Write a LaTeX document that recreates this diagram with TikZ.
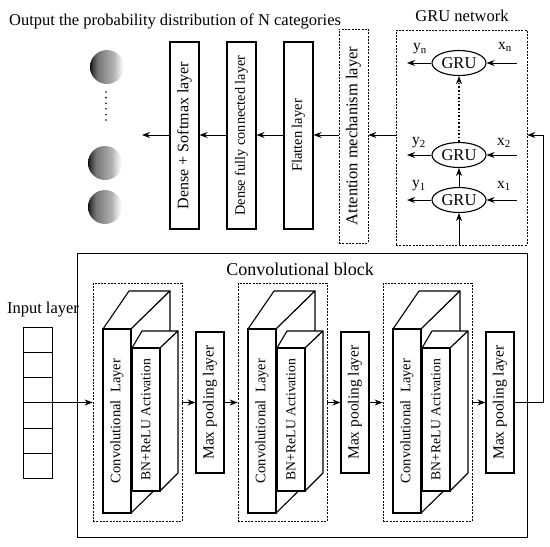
\documentclass[tikz,border=0pt]{standalone}
\usepackage{fontspec}
\setmainfont{Liberation Serif}
\usetikzlibrary{arrows.meta,shapes.geometric}
\pgfdeclarehorizontalshading{ballshade}{100bp}{color(0bp)=(black); color(25bp)=(black!95); color(29bp)=(black!75); color(36bp)=(black!55); color(48bp)=(black!42); color(60bp)=(black!30); color(68bp)=(black!12); color(75bp)=(white); color(100bp)=(white)}
\newcommand\fsz[1]{\fontsize{#1}{#1}\selectfont}
\begin{document}
\begin{tikzpicture}[x=1pt,y=-1pt,
  box/.style={draw, line width=1.1pt, inner sep=0pt, fill=white},
  dbox/.style={draw, line width=0.7pt, inner sep=0pt, dash pattern=on 2pt off 1.3pt},
  arr/.style={-{Stealth[length=8pt,width=6pt]}, line width=0.9pt},
  gru/.style={draw, ellipse, line width=1.1pt, minimum width=54pt, minimum height=25pt, inner sep=0pt, font=\fsz{16.5}},
  lbl/.style={inner sep=0pt, font=\fsz{15.5}},
  ball/.style={shading=ballshade}
]
\useasboundingbox (0,0) rectangle (550,547);

% title
\node[anchor=west, inner sep=0pt, font=\fsz{16.5}] (title) at (9,21) {Output the probability distribution of N categories};

% output balls
\shade[ball] (107,67) circle (17);
\shade[ball] (105,163) circle (17);
\shade[ball] (105,207) circle (17);
\foreach \k in {0,...,5} \fill (106,{92+\k*5.6}) circle (0.9);

% top row layers
\coordinate (ah) at (0,135);
\node[box, minimum width=29pt, minimum height=187pt, font=\fsz{16}] (dsm) at (184.5,135.5) {\rotatebox{90}{Dense + Softmax layer}};
\node[box, minimum width=29pt, minimum height=187pt, font=\fsz{14.3}] (dfc) at (241.5,135.5) {\rotatebox{90}{Dense fully connected layer}};
\node[box, minimum width=29pt, minimum height=187pt, font=\fsz{14.5}] (fl) at (298.5,135.5) {\rotatebox{90}{Flatten layer}};
\node[dbox, minimum width=29pt, minimum height=214pt, font=\fsz{16.5}] (att) at (353.5,136) {\rotatebox{90}{Attention mechanism layer}};

% GRU network
\node[dbox, minimum width=131pt, minimum height=215pt] (grubox) at (461.5,137.5) {};
\node[inner sep=0pt, font=\fsz{16.5}] (grulbl) at (462,16) {GRU network};
\node[gru] (g1) at (459,200) {GRU};
\node[gru] (g2) at (459,155) {GRU};
\node[gru] (gn) at (459,63) {GRU};
\node[lbl] (ly1) at (419,186) {y\textsubscript{1}};
\node[lbl] (ly2) at (419,143) {y\textsubscript{2}};
\node[lbl] (lyn) at (420,49) {y\textsubscript{n}};
\node[lbl] (lx1) at (504,186) {x\textsubscript{1}};
\node[lbl] (lx2) at (504,143) {x\textsubscript{2}};
\node[lbl] (lxn) at (505,47) {x\textsubscript{n}};
\coordinate (o1) at (407,200);
\coordinate (o2) at (407,155);
\coordinate (on) at (407,63);
\coordinate (i1) at (517,200);
\coordinate (i2) at (517,155);
\coordinate (in1) at (517,63);
\draw[arr] (g1.west) -- (o1);
\draw[arr] (g2.west) -- (o2);
\draw[arr] (gn.west) -- (on);
\draw[arr] (i1) -- (g1.east);
\draw[arr] (i2) -- (g2.east);
\draw[arr] (in1) -- (gn.east);
\draw[arr] (grubox.south -| g1.south) -- (g1.south);
\draw[arr] (g1.north) -- (g2.south);
\draw[arr, line width=1.3pt, dash pattern=on 1.6pt off 2pt] (g2.north) -- (gn.south);

% top-row arrows
\coordinate (outend) at (142,135);
\draw[arr] (grubox.west |- ah) -- (att.east |- ah);
\draw[arr] (att.west |- ah) -- (fl.east |- ah);
\draw[arr] (fl.west |- ah) -- (dfc.east |- ah);
\draw[arr] (dfc.west |- ah) -- (dsm.east |- ah);
\draw[arr] (dsm.west |- ah) -- (outend);

% convolutional block
\node[draw, line width=0.8pt, minimum width=450pt, minimum height=284pt, inner sep=0pt] (cb) at (302,395) {};
\node[inner sep=0pt, font=\fsz{18}] (cblbl) at (300,269) {Convolutional block};

% input layer
\node[inner sep=0pt, font=\fsz{16.5}] (inlbl) at (43,310) {Input layer};
\foreach \i in {1,...,6}
  \node[box, line width=1pt, minimum width=29pt, minimum height=25.33pt] (c\i) at (37.5,{327+25.33*(\i-0.5)}) {};

\foreach \i/\dx in {1/0,2/145,3/290}{
  \node[dbox, minimum width=89pt, minimum height=238pt] (db\i) at ({\dx+137.5},402) {};
  % conv layer 3D
  \draw[line width=1.1pt, fill=white, line join=round] ({\dx+103},329) -- ({\dx+129},291) -- ({\dx+170},291) -- ({\dx+131},329) -- cycle;
  \draw[line width=1.1pt, fill=white, line join=round] ({\dx+131},329) -- ({\dx+170},291) -- ({\dx+170},475) -- ({\dx+131},513) -- cycle;
  \node[box, minimum width=28pt, minimum height=184pt, font=\fsz{14.5}] (cv\i) at ({\dx+117},421) {\rotatebox{90}{Convolutional\ \ Layer}};
  % BN 3D
  \draw[line width=1.1pt, fill=white, line join=round] ({\dx+132},348) -- ({\dx+142},331) -- ({\dx+178},331) -- ({\dx+160},348) -- cycle;
  \draw[line width=1.1pt, fill=white, line join=round] ({\dx+160},348) -- ({\dx+178},331) -- ({\dx+178},473) -- ({\dx+160},491) -- cycle;
  \node[box, minimum width=28pt, minimum height=143pt, font=\fsz{13.7}] (bn\i) at ({\dx+146},419.5) {\rotatebox{90}{BN+ReLU Activation}};
  % max pooling
  \node[box, minimum width=28pt, minimum height=141pt, font=\fsz{15.5}] (mp\i) at ({\dx+210},402.5) {\rotatebox{90}{Max pooling layer}};
}

% bottom-row arrows
\draw[arr] (c4.north east) -- (db1.west |- c4.north east);
\draw[arr] (db1.east |- mp1.west) -- (mp1.west);
\draw[arr] (mp1.east) -- (db2.west |- mp1.east);
\draw[arr] (db2.east |- mp2.west) -- (mp2.west);
\draw[arr] (mp2.east) -- (db3.west |- mp2.east);
\draw[arr] (db3.east |- mp3.west) -- (mp3.west);
\coordinate (fb1) at (543,402.5);
\coordinate (fb2) at (543,135);
\draw[arr] (mp3.east) -- (fb1) -- (fb2) -- (grubox.east |- fb2);
\end{tikzpicture}
\end{document}
